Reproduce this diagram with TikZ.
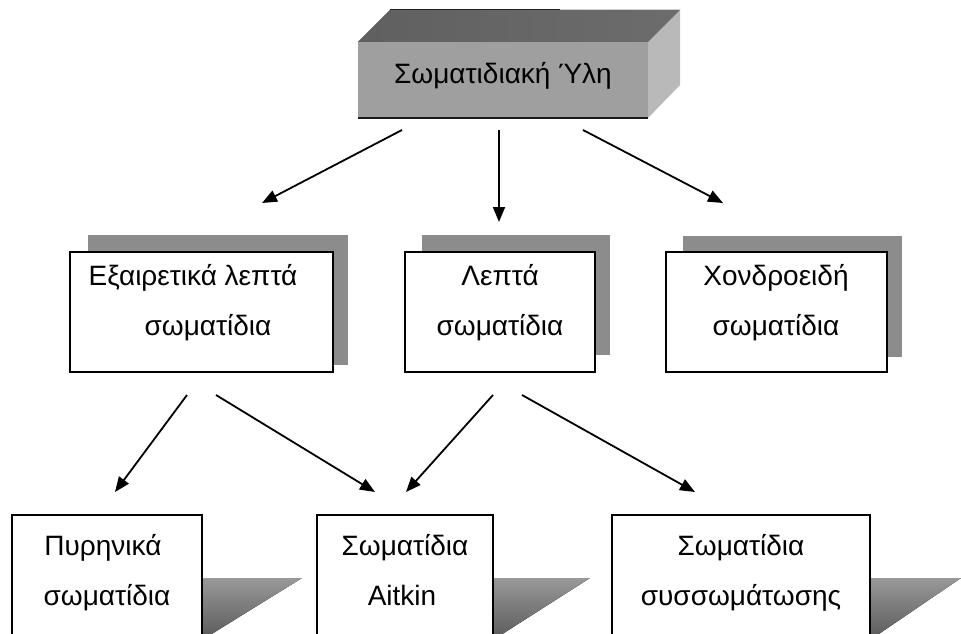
\documentclass[tikz,border=0pt]{standalone}
\usepackage{fontspec}
\setmainfont{Liberation Sans}
\usetikzlibrary{arrows.meta}
\begin{document}
\begin{tikzpicture}[x=1pt,y=-1pt,
  boxst/.style={draw=black, line width=1.4pt, fill=white, inner sep=0pt},
  shadowst/.style={fill=gray!90, draw=none, inner sep=0pt},
  lbl/.style={anchor=base, font=\fontsize{28}{32}\selectfont, inner sep=0pt},
  arr/.style={line width=1.8pt, -{Triangle[length=15pt,width=12pt]}},
  tri/.style={top color=gray!80, bottom color=gray!70!black, draw=none}]
\useasboundingbox (0,0) rectangle (961,634);
\clip (0,0) rectangle (961,634);
% ---- top 3D block ----
\fill[left color=gray!75!black, right color=gray!85!black] (358,42) -- (390,10) -- (680,10) -- (648,42) -- cycle;
\fill[gray!55] (648,42) -- (680,10) -- (680,85) -- (648,118) -- cycle;
\node[fill=gray!75, inner sep=0pt, minimum width=290pt, minimum height=76pt] (top) at (503,80) {};
\draw[line width=1.2pt, gray!20!black] (358,118) -- (648,118);
\draw[line width=1pt, gray!25!black] (390,10) -- (560,10);
\node[lbl] (toptext) at (503,84) {Σωματιδιακή Ύλη};
% ---- middle row ----
\node[shadowst, minimum width=260pt, minimum height=130pt] (sh1) at (218,300) {};
\node[shadowst, minimum width=188pt, minimum height=120pt] (sh2) at (516,295) {};
\node[shadowst, minimum width=219pt, minimum height=121pt] (sh3) at (792.5,296.5) {};
\node[boxst, minimum width=263pt, minimum height=120pt] (m1) at (201.5,312) {};
\node[boxst, minimum width=190pt, minimum height=120pt] (m2) at (500,312) {};
\node[boxst, minimum width=221pt, minimum height=120pt] (m3) at (776.5,312) {};
\node[lbl] (m1a) at (193,285) {Εξαιρετικά λεπτά};
\node[lbl] (m1b) at (208,335) {σωματίδια};
\node[lbl] (m2a) at (500,285) {Λεπτά};
\node[lbl] (m2b) at (500,335) {σωματίδια};
\node[lbl] (m3a) at (776,285) {Χονδροειδή};
\node[lbl] (m3b) at (776,335) {σωματίδια};
% ---- bottom row ----
\fill[tri] (202,578) -- (302,578) -- (202,640) -- cycle;
\fill[tri] (493,578) -- (590,578) -- (493,640) -- cycle;
\fill[tri] (870,578) -- (961,578) -- (870,640) -- cycle;
\node[boxst, minimum width=190pt, minimum height=135pt] (b1) at (107,582.5) {};
\node[boxst, minimum width=176pt, minimum height=135pt] (b2) at (405,582.5) {};
\node[boxst, minimum width=258pt, minimum height=135pt] (b3) at (741,582.5) {};
\node[lbl] (b1a) at (103,555) {Πυρηνικά};
\node[lbl] (b1b) at (107,605) {σωματίδια};
\node[lbl] (b2a) at (405,555) {Σωματίδια};
\node[lbl] (b2b) at (402,605) {Aitkin};
\node[lbl] (b3a) at (741,555) {Σωματίδια};
\node[lbl] (b3b) at (741,605) {συσσωμάτωσης};
% ---- connectors ----
\coordinate (s1) at (402,130); \coordinate (e1) at (262,203);
\coordinate (s2) at (499,130); \coordinate (e2) at (499,222);
\coordinate (s3) at (583,130); \coordinate (e3) at (723,203);
\draw[arr] (s1) -- (e1);
\draw[arr] (s2) -- (e2);
\draw[arr] (s3) -- (e3);
\coordinate (s4) at (187,395); \coordinate (e4) at (115,492);
\coordinate (s5) at (216,395); \coordinate (e5) at (375,492);
\coordinate (s6) at (493,395); \coordinate (e6) at (406,492);
\coordinate (s7) at (522,395); \coordinate (e7) at (695,492);
\draw[arr] (s4) -- (e4);
\draw[arr] (s5) -- (e5);
\draw[arr] (s6) -- (e6);
\draw[arr] (s7) -- (e7);
\end{tikzpicture}
\end{document}
